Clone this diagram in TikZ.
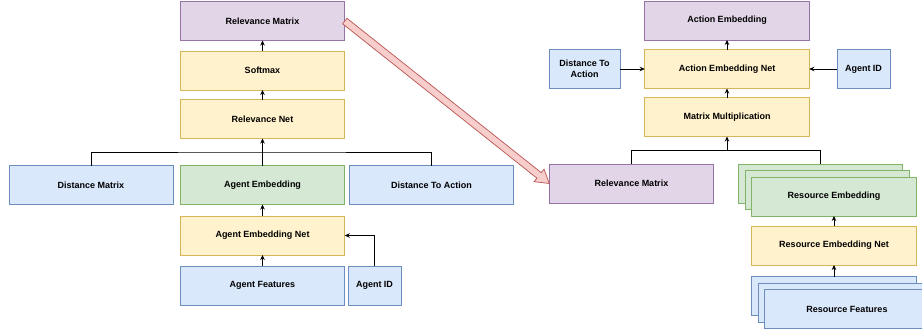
\documentclass[tikz,border=0pt]{standalone}
\usepackage{fontspec}
\setmainfont{Liberation Sans}
\usepackage{tikz}
\usetikzlibrary{arrows.meta,positioning,calc}

\definecolor{purpfill}{HTML}{E1D5E7}
\definecolor{purpline}{HTML}{9673A6}
\definecolor{yelfill}{HTML}{FFF2CC}
\definecolor{yelline}{HTML}{D6B656}
\definecolor{bluefill}{HTML}{DAE8FC}
\definecolor{blueline}{HTML}{6C8EBF}
\definecolor{greenfill}{HTML}{D5E8D4}
\definecolor{greenline}{HTML}{82B366}
\definecolor{redfill}{HTML}{F8CECC}
\definecolor{redline}{HTML}{B85450}

\begin{document}
\begin{tikzpicture}[
  x=1pt, y=-1pt,
  box/.style={draw, minimum width=164.5pt, minimum height=39pt, inner sep=2pt,
              outer sep=0pt, line width=0.8pt, align=center,
              font=\fontsize{9}{10.5}\selectfont\bfseries},
  purp/.style={box, draw=purpline, fill=purpfill},
  net/.style={box, draw=yelline, fill=yelfill},
  inp/.style={box, draw=blueline, fill=bluefill},
  emb/.style={box, draw=greenline, fill=greenfill},
  arr/.style={-{Stealth[length=5pt,width=4.5pt]}, line width=0.7pt},
  bus/.style={line width=0.7pt},
  bigarr/.style={draw=redline, fill=redfill, line width=0.7pt, line join=miter},
  node distance=10pt
]
  \useasboundingbox (0,0) rectangle (922,330);

  % agent side
  \node[purp] (relmat) at (262.5,21) {Relevance Matrix};
  \node[net, below=10.5pt of relmat] (softmax)  {Softmax};
  \node[net, below=9.5pt of softmax] (relnet)   {Relevance Net};
  \node[emb, below=27pt of relnet]   (agentemb) {Agent Embedding};
  \node[inp, minimum width=164pt, left=7.25pt of agentemb] (distmat) {Distance Matrix};
  \node[inp, right=4.5pt of agentemb] (dist2act) {Distance To Action};
  \node[net, below=11.5pt of agentemb] (agentnet)  {Agent Embedding Net};
  \node[inp, below=11pt of agentnet]   (agentfeat) {Agent Features};
  \node[inp, minimum width=53pt, right=3.25pt of agentfeat] (agentid) {Agent ID};

  % action side
  \node[purp] (actemb) at (727,20.5) {Action Embedding};
  \node[net, below=9.5pt of actemb] (actnet) {Action Embedding Net};
  \node[inp, minimum width=71pt, left=24.75pt of actnet]  (dist2act2) {Distance To\\Action};
  \node[inp, minimum width=53pt, right=27.75pt of actnet] (agentid2)  {Agent ID};
  \node[net, below=9pt of actnet] (matmul) {Matrix Multiplication};
  \node[purp] (relmat2) at (631.5,183.5) {Relevance Matrix};

  % resource stacks
  \node[emb] (resemb3) at (820.5,183.5) {};
  \node[emb] (resemb2) at (827.5,190) {};
  \node[emb] (resemb)  at (834,196.5) {Resource Embedding};
  \node[net, below=10pt of resemb]   (resnet)   {Resource Embedding Net};
  \node[inp, below=11.5pt of resnet] (resfeat3) {};
  \node[inp] (resfeat2) at ($(resfeat3)+(6.5,6.5)$) {};
  \node[inp] (resfeat)  at ($(resfeat3)+(13,13)$) {Resource Features};

  % connectors
  \coordinate (lbus) at ($(agentemb.north)!0.5!(relnet.south)$);
  \draw[bus] (distmat.north) |- (lbus) -| (dist2act.north);
  \draw[arr] (agentemb) -- (relnet);
  \draw[arr] (relnet)   -- (softmax);
  \draw[arr] (softmax)  -- (relmat);
  \draw[arr] (agentnet) -- (agentemb);
  \draw[arr] (agentfeat) -- (agentnet);
  \draw[arr] (agentid)  |- (agentnet);

  \coordinate (rbus) at ($(matmul.south)!0.5!(matmul.south |- relmat2.north)$);
  \draw[bus] (relmat2.north) |- (rbus) -| (resemb3.north);
  \draw[arr] (rbus)   -- (matmul);
  \draw[arr] (matmul) -- (actnet);
  \draw[arr] (actnet) -- (actemb);
  \draw[arr] (dist2act2) -- (actnet);
  \draw[arr] (agentid2)  -- (actnet);
  \draw[arr] (resnet)   -- (resemb);
  \draw[arr] (resfeat3) -- (resnet);

  % big block arrow
  \coordinate (hb) at ($(relmat2.west)!13pt!(relmat.east)$);
  \draw[bigarr] ($(relmat.east)!3.5pt!90:(relmat2.west)$)
    -- ($(hb)!3.5pt!90:(relmat2.west)$) -- ($(hb)!8pt!90:(relmat2.west)$)
    -- (relmat2.west)
    -- ($(hb)!8pt!-90:(relmat2.west)$) -- ($(hb)!3.5pt!-90:(relmat2.west)$)
    -- ($(relmat.east)!3.5pt!-90:(relmat2.west)$) -- cycle;
\end{tikzpicture}
\end{document}
